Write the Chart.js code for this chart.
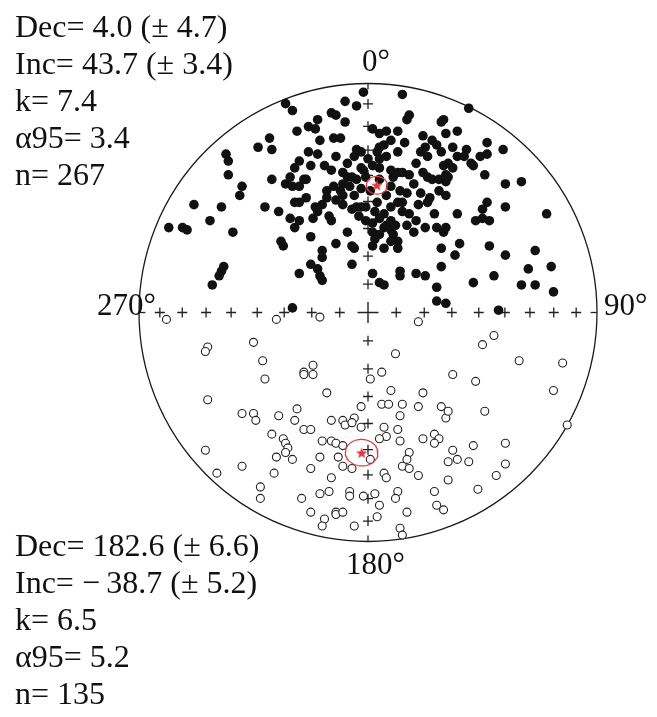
<!DOCTYPE html>
<html lang="en">

<head>
    <meta charset="UTF-8">
    <title>Equal-area stereonet</title>
    <script src="https://cdn.jsdelivr.net/npm/chart.js"></script>
    <style>
        html, body { margin: 0; padding: 0; background: #fff; }
    </style>
</head>

<body>
    <canvas id="netChart" width="657" height="717"></canvas>

    <script>
        // pole positions on the net, in % of the net radius (x = east, y = north)
        const normalPoles = [
            [-36,91],[-33,88],[-31,79],[-43,76],[-48,72],[-42,71],[-62,69],[-61,66],[-61,60],[-42,58],[-55,55],[-56,51],
            [-36,56],[-34,59],[-32,63],[-33,55],[-2,96],[15,95],[-10,92],[-5,90],[-16,87],[-14,86],[-10,83],[18,86],
            [17,84],[33,84],[32,83],[-26,81],[-23,80],[-22,84],[5,78],[8,79],[13,79],[2,80],[-21,75],[-15,76],[-12,76],
            [10,75],[7,73],[5,72],[16,74],[24,77],[28,75],[25,72],[34,78],[30,73],[-5,71],[-3,70],[4,70],[5,67],[8,68],
            [13,70],[23,70],[26,68],[32,70],[-22,69],[-30,66],[-19,64],[-11,61],[-9,59],[-7,59],[-3,63],[-2,62],[2,64],
            [5,63],[10,62],[11,59],[13,61],[15,61],[18,60],[21,65],[24,61],[26,59],[28,58],[33,64],[35,65],[31,58],
            [-30,55],[-28,58],[-18,53],[-15,55],[-12,53],[-11,56],[-5,58],[-3,54],[10,55],[14,53],[17,52],[23,52],
            [31,53],[34,51],[44,89],[39,79],[52,74],[59,71],[37,72],[43,71],[39,68],[42,68],[49,68],[52,69],[45,65],
            [46,64],[37,63],[34,60],[35,59],[34,57],[51,60],[60,56],[67,57],[-76,47],[-64,46],[-45,46],[-39,44],[-32,48],
            [-34,41],[-32,37],[-87,37],[-81,37],[-79,36],[-69,40],[-59,35],[-38,31],[-37,29],[-63,20],[-64,18],[-65,16],
            [-68,12],[-30,17],[-33,2],[-30,40],[-23,46],[-22,44],[-24,41],[-17,42],[-16,40],[-18,50],[-14,49],[-11,47],
            [-11,51],[-7,45],[-5,46],[-3,46],[-1,40],[2,39],[4,48],[3,44],[5,41],[7,43],[10,40],[8,38],[7,37],[10,36],
            [5,34],[3,32],[2,29],[11,34],[13,31],[13,48],[15,44],[17,38],[21,40],[25,37],[26,48],[27,50],[30,37],[34,37],
            [33,35],[-25,33],[-14,30],[-7,29],[-6,28],[7,28],[13,28],[-20,27],[-20,24],[32,28],[-7,21],[-25,21],[-22,19],
            [-21,16],[-20,14],[2,17],[14,18],[14,16],[21,17],[25,16],[5,13],[7,12],[32,20],[30,11],[30,5],[34,4],
            [52,48],[50,45],[47,40],[50,41],[53,40],[39,43],[60,46],[78,43],[40,30],[38,25],[53,29],[60,25],[73,27],
            [70,19],[80,20],[55,16],[46,13],[67,12],[73,12],[81,9],[57,1],
            [1,53],[5,58],[-1,59],[-9,65],[-6,68],[-14,68],[-16,62],[-25,64],[-27,58],[-27,50],[-30,48],[-20,47],
            [-6,51],[-1,46],[10,46],[15,48],[18,43],[2,35],[10,31],[29,43],[-8,55],[20,56],[8,51],[-4,42],[12,38],
            [20,35],[-9,35],[22,47],[-26,70],[0,67]
        ];
        const reversedPoles = [
            [-88,-3],[-40,-3],[-70,-15],[-71,-17],[-50,-13],[-46,-21],[-45,-29],[-70,-38],[-55,-44],[-50,-44],[-49,-47],
            [-39,-45],[-32,-47],[-31,-42],[-21,-2],[22,-4],[12,-18],[-24,-23],[-28,-26],[-28,-27],[-24,-27],[6,-26],
            [1,-29],[-18,-35],[10,-34],[24,-35],[-3,-41],[6,-40],[9,-40],[15,-40],[22,-41],[32,-41],[34,-46],[-16,-47],
            [-11,-47],[-10,-49],[-6,-46],[-7,-48],[-3,-50],[14,-45],[-28,-51],[-25,-51],[7,-50],[13,-51],[55,-10],
            [50,-14],[66,-21],[85,-22],[37,-27],[47,-30],[81,-34],[35,-43],[51,-43],[87,-49],[-42,-53],[-37,-55],
            [-36,-57],[-35,-59],[-36,-61],[-40,-63],[-33,-64],[-20,-56],[-16,-56],[-14,-57],[-11,-58],[-71,-60],
            [-55,-67],[-66,-70],[-41,-70],[-21,-63],[-25,-68],[-13,-63],[-11,-67],[-7,-68],[1,-64],[-16,-72],[-47,-76],
            [-47,-81],[-29,-81],[-21,-79],[-17,-78],[-8,-78],[-8,-80],[-2,-80],[-25,-87],[-14,-87],[-14,-88],[-11,-87],
            [-19,-90],[-20,-93],[-6,-93],[8,-54],[5,-55],[14,-56],[24,-55],[29,-53],[31,-55],[29,-57],[37,-60],[35,-65],
            [39,-64],[46,-58],[60,-57],[44,-65],[60,-66],[56,-71],[18,-61],[17,-64],[15,-67],[18,-68],[22,-71],[35,-73],
            [48,-77],[7,-70],[8,-72],[29,-78],[3,-79],[5,-84],[13,-78],[12,-81],[30,-84],[33,-86],[17,-87],[4,-89],
            [14,-94],[15,-97]
        ];

        // Fisher means: [normal, reversed]
        const meanDec = [4.0, 182.6];
        const meanInc = [43.7, -38.7];
        const decErr = [4.7, 6.6];
        const incErr = [3.4, 5.2];
        const kappa = [7.4, 6.5];
        const alpha95 = [3.4, 5.2];
        const count = [267, 135];

        const axisLabels = ['0°', '90°', '180°', '270°'];
        const gridInc = [80, 70, 60, 50, 40, 30, 20, 10];

        const RAD = Math.PI / 180;
        const RED = '#e2383d';

        // equal-area projection, net radius = 100
        function project(dec, inc) {
            const r = 100 * Math.SQRT2 * Math.sin((90 - Math.abs(inc)) / 2 * RAD);
            return { x: r * Math.sin(dec * RAD), y: r * Math.cos(dec * RAD) };
        }

        // alpha95 cone around a mean direction
        function coneTrace(dec, inc, a95) {
            const m = [Math.cos(inc * RAD) * Math.cos(dec * RAD), Math.cos(inc * RAD) * Math.sin(dec * RAD), Math.sin(inc * RAD)];
            const u = [-Math.sin(dec * RAD), Math.cos(dec * RAD), 0];
            const w = [m[1] * u[2] - m[2] * u[1], m[2] * u[0] - m[0] * u[2], m[0] * u[1] - m[1] * u[0]];
            const out = [];
            for (let t = 0; t <= 360; t += 6) {
                const c = Math.cos(t * RAD), s = Math.sin(t * RAD);
                const v = [0, 1, 2].map(i => Math.cos(a95 * RAD) * m[i] + Math.sin(a95 * RAD) * (c * u[i] + s * w[i]));
                const d = Math.atan2(v[1], v[0]) / RAD;
                const incl = Math.asin(Math.max(-1, Math.min(1, v[2]))) / RAD;
                out.push(project(d, incl));
            }
            return out;
        }

        // grid crosses every 10 degrees along the two diameters
        const gridPts = [];
        gridInc.forEach(inc => {
            [0, 90, 180, 270].forEach(az => gridPts.push(project(az, inc)));
        });

        // red filled star used as the mean marker
        function makeStar(size) {
            const c = document.createElement('canvas');
            c.width = size; c.height = size;
            const g = c.getContext('2d');
            const R = size / 2, r = R * 0.42;
            g.beginPath();
            for (let i = 0; i < 10; i++) {
                const rad = i % 2 ? r : R;
                const a = -Math.PI / 2 + i * Math.PI / 5;
                g.lineTo(R + rad * Math.cos(a), R + 0.5 + rad * Math.sin(a));
            }
            g.closePath();
            g.fillStyle = RED;
            g.fill();
            return c;
        }
        const star = makeStar(12);

        const netPlugin = {
            id: 'netFrame',
            beforeDatasetsDraw(chart) {
                const { ctx, scales: { x, y } } = chart;
                const cx = x.getPixelForValue(0), cy = y.getPixelForValue(0);
                const r = x.getPixelForValue(100) - cx;
                ctx.save();
                ctx.beginPath();
                ctx.arc(cx, cy, r, 0, Math.PI * 2);
                ctx.lineWidth = 1.3;
                ctx.strokeStyle = '#1a1a1a';
                ctx.stroke();
                ctx.restore();
            },
            afterDraw(chart) {
                const { ctx, scales: { x, y } } = chart;
                ctx.save();
                ctx.fillStyle = '#111';
                ctx.textBaseline = 'alphabetic';
                ctx.font = '32px "Liberation Serif", "Times New Roman", serif';

                const top = [
                    'Dec= ' + meanDec[0].toFixed(1) + ' (\u00b1 ' + decErr[0].toFixed(1) + ')',
                    'Inc= ' + meanInc[0].toFixed(1) + ' (\u00b1 ' + incErr[0].toFixed(1) + ')',
                    'k= ' + kappa[0].toFixed(1),
                    '\u03b195= ' + alpha95[0].toFixed(1),
                    'n= ' + count[0]
                ];
                const bottom = [
                    'Dec= ' + meanDec[1].toFixed(1) + ' (\u00b1 ' + decErr[1].toFixed(1) + ')',
                    'Inc= \u2212\u2009' + Math.abs(meanInc[1]).toFixed(1) + ' (\u00b1 ' + incErr[1].toFixed(1) + ')',
                    'k= ' + kappa[1].toFixed(1),
                    '\u03b195= ' + alpha95[1].toFixed(1),
                    'n= ' + count[1]
                ];
                top.forEach((t, i) => ctx.fillText(t, 15, 37 + i * 37));
                bottom.forEach((t, i) => ctx.fillText(t, 15, 556 + i * 37));

                // azimuth labels around the net
                const cx = x.getPixelForValue(0), cy = y.getPixelForValue(0);
                const r = x.getPixelForValue(100) - cx;
                ctx.font = '31px "Liberation Serif", "Times New Roman", serif';
                ctx.fillText(axisLabels[0], cx - 6, cy - r - 13);
                ctx.fillText(axisLabels[1], cx + r + 7, cy + 2);
                ctx.fillText(axisLabels[2], cx - 22, cy + r + 32);
                ctx.fillText(axisLabels[3], cx - r - 42, cy + 2);
                ctx.restore();
            }
        };

        const meanPts = meanDec.map((d, i) => project(d, meanInc[i]));
        const toXY = p => ({ x: p[0], y: p[1] });

        new Chart(document.getElementById('netChart'), {
            type: 'scatter',
            data: {
                datasets: [
                    {
                        label: 'means',
                        data: meanPts,
                        pointStyle: star,
                        pointRadius: 6
                    },
                    {
                        label: 'a95 normal',
                        data: coneTrace(meanDec[0], meanInc[0], alpha95[0]),
                        showLine: true,
                        borderColor: RED,
                        borderWidth: 1.2,
                        pointRadius: 0,
                        fill: false
                    },
                    {
                        label: 'a95 reversed',
                        data: coneTrace(meanDec[1], Math.abs(meanInc[1]), alpha95[1]),
                        showLine: true,
                        borderColor: RED,
                        borderWidth: 1.2,
                        pointRadius: 0,
                        fill: false
                    },
                    {
                        label: 'normal',
                        data: normalPoles.map(toXY),
                        pointStyle: 'circle',
                        pointRadius: 4.8,
                        backgroundColor: '#111',
                        borderColor: '#111',
                        borderWidth: 0
                    },
                    {
                        label: 'reversed',
                        data: reversedPoles.map(toXY),
                        pointStyle: 'circle',
                        pointRadius: 4,
                        backgroundColor: '#fff',
                        borderColor: '#222',
                        borderWidth: 1.1
                    },
                    {
                        label: 'centre',
                        data: [{ x: 0, y: 0 }],
                        pointStyle: 'cross',
                        pointRadius: 10.5,
                        borderColor: '#222',
                        borderWidth: 1.4
                    },
                    {
                        label: 'grid',
                        data: gridPts,
                        pointStyle: 'cross',
                        pointRadius: 5,
                        borderColor: '#222',
                        borderWidth: 1.3
                    },
                    {
                        label: 'edge ticks h',
                        data: [{ x: -98.6, y: 0 }, { x: 98.6, y: 0 }],
                        pointStyle: 'line',
                        pointRadius: 3.2,
                        borderColor: '#222',
                        borderWidth: 1.3
                    },
                    {
                        label: 'edge ticks v',
                        data: [{ x: 0, y: 98.6 }, { x: 0, y: -98.6 }],
                        pointStyle: 'line',
                        rotation: 90,
                        pointRadius: 3.2,
                        borderColor: '#222',
                        borderWidth: 1.3
                    }
                ]
            },
            options: {
                responsive: false,
                animation: false,
                devicePixelRatio: 1,
                events: [],
                layout: { padding: { left: 139, right: 60, top: 83, bottom: 175 } },
                scales: {
                    x: { type: 'linear', min: -100, max: 100, display: false },
                    y: { type: 'linear', min: -100, max: 100, display: false }
                },
                plugins: {
                    legend: { display: false },
                    tooltip: { enabled: false }
                }
            },
            plugins: [netPlugin]
        });
    </script>
</body>

</html>
